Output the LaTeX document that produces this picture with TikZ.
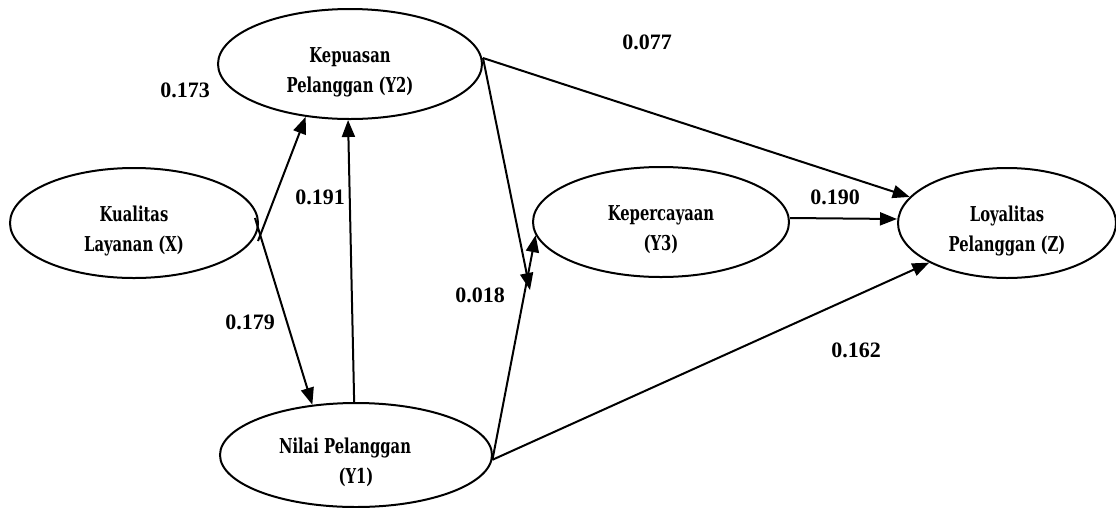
\documentclass[tikz,border=0pt]{standalone}
\usepackage{fontspec}
\setmainfont{Liberation Serif}
\newfontfamily\nodefont[FakeStretch=0.72]{DejaVu Serif}
\usetikzlibrary{shapes.geometric,arrows.meta,calc}
\newcommand\lowerpad{\rule{0pt}{31pt}}
\begin{document}
\begin{tikzpicture}[x=1pt,y=-1pt,
  latent/.style={ellipse,draw,line width=2pt,inner sep=0pt,align=center,
    font=\nodefont\bfseries\fontsize{20.5}{30}\selectfont},
  pathline/.style={line width=2pt,-{Triangle[length=17pt,width=13pt]}},
  coef/.style={font=\bfseries\fontsize{22}{22}\selectfont}]
\useasboundingbox (0,0) rectangle (1116,507);
% latent variables
\node[latent,minimum width=264pt,minimum height=110pt] (Y2) at (350,64) {\lowerpad Kepuasan\\Pelanggan (Y2)};
\node[latent,minimum width=248pt,minimum height=110pt] (X) at (134,223) {\lowerpad Kualitas\\Layanan (X)};
\node[latent,minimum width=256pt,minimum height=110pt] (Y3) at (661,222) {\lowerpad Kepercayaan\\(Y3)};
\node[latent,minimum width=218pt,minimum height=110pt] (Z) at (1007,223) {\lowerpad Loyalitas\\Pelanggan (Z)};
\node[latent,minimum width=272pt,minimum height=104pt] (Y1) at (356,455) {\lowerpad Nilai Pelanggan\hspace*{22pt}\\(Y1)};
% paths
\draw[pathline] ($(X.east)+(-1,18)$) -- (Y2.230);
\draw[pathline] ($(X.east)+(-4,-5)$) -- (Y1.131);
\draw[pathline] (Y1.92) -- (Y2.268);
\draw[pathline] ($(Y2.east)+(0,-6)$) -- ($(Y3.west)+(-2,68)$);
\draw[pathline] (Y1.-2) -- (Y3.186);
\draw[pathline] ($(Y2.east)+(0,-6)$) -- (Z.165);
\draw[pathline] ($(Y3.east)+(0,-4)$) -- ($(Z.west)+(0,-4)$);
\draw[pathline] (Y1.-2) -- (Z.207);
% coefficients
\node[coef] (c077) at (647,42) {0.077};
\node[coef] (c173) at (185,90) {0.173};
\node[coef] (c191) at (320,197) {0.191};
\node[coef] (c190) at (835,197) {0.190};
\node[coef] (c018) at (480,295) {0.018};
\node[coef] (c179) at (250,322) {0.179};
\node[coef] (c162) at (856,350) {0.162};
\end{tikzpicture}
\end{document}
